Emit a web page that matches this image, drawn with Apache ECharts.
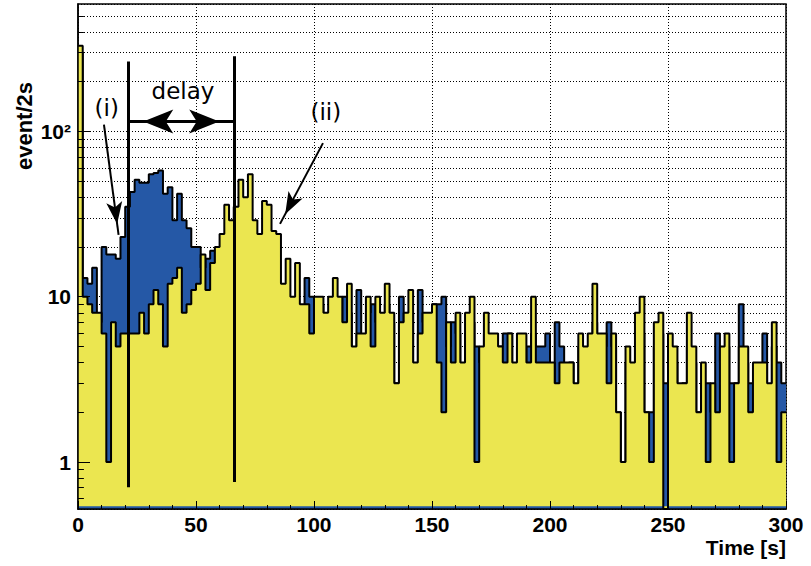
<!DOCTYPE html>
<html>
<head>
<meta charset="utf-8">
<script src="https://cdn.jsdelivr.net/npm/echarts@6/dist/echarts.min.js"></script>
<style>
  html, body { margin: 0; padding: 0; background: #fff; }
  #chart { width: 811px; height: 566px; }
</style>
</head>
<body>
<div id="chart"></div>
<script>
// Event counts per 2 s bin, 0-300 s (150 bins)
const binWidth = 2;

const yellowCounts = [
  330, 10, 9, 8, 8, 6, 1, 7, 5, 6,
  6, 6, 6, 8, 6, 9, 11, 9, 5, 12,
  13, 15, 8, 9, 11, 12, 18, 11, 16, 20,
  24, 36, 29, 35, 51, 40, 55, 29, 24, 38,
  36, 25, 24, 12, 17, 10, 16, 9, 9, 6,
  10, 10, 8, 10, 13, 10, 7, 12, 5, 6,
  6, 10, 5, 10, 8, 12, 8, 3, 7, 8,
  11, 4, 6, 8, 8, 9, 4, 2, 7, 4,
  8, 4, 8, 10, 1, 5, 8, 6, 6, 5,
  4, 6, 4, 6, 6, 4, 10, 4, 4, 4,
  4, 3, 4, 4, 4, 3, 6, 5, 6, 12,
  6, 6, 3, 6, 2, 1, 5, 4, 8, 10,
  2, 1, 7, 8, 0, 6, 5, 3, 3, 8,
  5, 2, 4, 1, 3, 2, 5, 6, 1, 3,
  5, 5, 2, 4, 4, 4, 3, 7, 1, 2
];

const blueCounts = [
  300, 13, 12, 15, 7, 20, 18, 18, 17, 23,
  35, 43, 51, 49, 49, 55, 56, 58, 42, 46,
  29, 42, 29, 26, 20, 20, 15, 17, 19, 16,
  15, 14, 13, 14, 13, 12, 12, 11, 12, 11,
  10, 11, 10, 9, 10, 9, 9, 8, 13, 10,
  8, 9, 7, 8, 9, 7, 10, 8, 4, 11,
  5, 8, 9, 7, 6, 9, 7, 3, 10, 6,
  8, 3, 11, 7, 6, 9, 9, 10, 5, 7,
  6, 3, 6, 7, 5, 4, 6, 5, 4, 5,
  6, 6, 3, 5, 4, 5, 6, 5, 5, 6,
  3, 7, 5, 3, 4, 2, 5, 4, 5, 7,
  4, 5, 7, 5, 2, 1, 4, 3, 5, 6,
  2, 2, 5, 6, 3, 4, 4, 2, 3, 5,
  4, 2, 3, 3, 2, 6, 4, 5, 3, 3,
  9, 4, 3, 3, 3, 6, 2, 5, 4, 3
];

// Axis settings and tick labels
const xMin = 0, xMax = 300, xInterval = 50;
const yMin = 0.52, yMax = 590;
const yTickValues = [1, 10, 100];
const yTickLabels = ['1', '10', '10\u00B2'];
const yMinorValues = [0.6, 0.7, 0.8, 0.9, 2, 3, 4, 5, 6, 7, 8, 9,
                      20, 30, 40, 50, 60, 70, 80, 90, 200, 300, 400, 500];

// Annotations: time [s], counts
const delayStart = 21.3, delayEnd = 66.2;
const delayLeftSpan = [265, 0.705];
const delayRightSpan = [285, 0.757];
const delayArrowLevel = 115;
const arrowI = [[11.0, 110], [17.2, 23.7]];
const arrowII = [[103.8, 85], [85.6, 27.6]];
const textLabels = [
  { name: 'delay', at: [44.5, 175] },
  { name: '(i)', at: [12.2, 139] },
  { name: '(ii)', at: [105, 131] }
];

const YELLOW = '#ebe650';
const BLUE = '#2558a6';
const LABEL_FONT = "'Liberation Sans', Arial, Helvetica, sans-serif";

// Step outline points: each bin value starts at its left edge, closing at the last edge.
function stepData(counts) {
  const pts = counts.map((c, i) => [i * binWidth, c > 0 ? c : yMin]);
  pts.push([counts.length * binWidth, pts[pts.length - 1][1]]);
  return pts;
}

const minorGridLines = yMinorValues.map(v => ({ yAxis: v }));

// short tick marks along the left frame
const leftTicks = yMinorValues.map(v => [
  { coord: [xMin, v], symbol: 'none' },
  { coord: [xMin + 2.5, v], symbol: 'none' }
]);

const arrowEnd = size => ({ symbol: 'arrow', symbolSize: size, symbolOffset: [0, '50%'] });

const annotationLines = [
  [{ coord: [delayStart, delayLeftSpan[0]], symbol: 'none' },
   { coord: [delayStart, delayLeftSpan[1]], symbol: 'none', lineStyle: { width: 3 } }],
  [{ coord: [delayEnd, delayRightSpan[0]], symbol: 'none' },
   { coord: [delayEnd, delayRightSpan[1]], symbol: 'none', lineStyle: { width: 3 } }],
  [Object.assign({ coord: [delayStart, delayArrowLevel] }, arrowEnd([18, 30])),
   Object.assign({ coord: [delayEnd, delayArrowLevel], lineStyle: { width: 3 } }, arrowEnd([18, 30]))],
  [{ coord: arrowI[0], symbol: 'none' },
   Object.assign({ coord: arrowI[1], lineStyle: { width: 2 } }, arrowEnd([12, 22]))],
  [{ coord: arrowII[0], symbol: 'none' },
   Object.assign({ coord: arrowII[1], lineStyle: { width: 2 } }, arrowEnd([12, 22]))]
];

const chart = echarts.init(document.getElementById('chart'), null, { renderer: 'svg' });

chart.setOption({
  animation: false,
  textStyle: { fontFamily: LABEL_FONT },
  grid: {
    left: 78, right: 25, top: 4, bottom: 57,
    show: true, borderColor: '#000', borderWidth: 1.5, backgroundColor: '#fff'
  },
  xAxis: [
    {
      type: 'value', min: xMin, max: xMax, interval: xInterval, z: 0,
      axisLine: { show: false }, axisTick: { show: false }, axisLabel: { show: false },
      splitLine: { show: true, lineStyle: { color: '#000', type: [1, 2], width: 1 } }
    },
    {
      type: 'value', min: xMin, max: xMax, interval: xInterval, z: 6, position: 'bottom',
      axisLine: { show: true, onZero: false, lineStyle: { color: '#000', width: 1.5 } },
      axisTick: { show: true, inside: true, length: 8, lineStyle: { color: '#000', width: 1 } },
      minorTick: { show: true, splitNumber: 5, length: 4, lineStyle: { color: '#000', width: 1 } },
      splitLine: { show: false },
      axisLabel: { show: true, margin: 5, color: '#000', fontSize: 21, fontWeight: 'bold', fontFamily: LABEL_FONT },
      name: 'Time [s]', nameLocation: 'end', nameGap: 0,
      nameTextStyle: { color: '#000', fontSize: 21, fontWeight: 'bold', fontFamily: LABEL_FONT,
                       align: 'right', verticalAlign: 'top', padding: [28, 0, 0, 0] }
    }
  ],
  yAxis: [
    {
      type: 'log', logBase: 10, min: yMin, max: yMax, z: 0,
      axisLine: { show: false }, axisTick: { show: false }, axisLabel: { show: false },
      splitLine: { show: true, lineStyle: { color: '#000', type: [1, 2], width: 1 } }
    },
    {
      type: 'log', logBase: 10, min: yMin, max: yMax, z: 6, position: 'left',
      axisLine: { show: true, onZero: false, lineStyle: { color: '#000', width: 1.5 } },
      axisTick: { show: true, inside: true, length: 12, lineStyle: { color: '#000', width: 1 } },
      splitLine: { show: false },
      axisLabel: {
        show: true, margin: 7, color: '#000', fontSize: 21, fontWeight: 'bold', fontFamily: LABEL_FONT,
        showMinLabel: false, showMaxLabel: false,
        formatter: v => {
          const k = yTickValues.findIndex(t => Math.abs(t - v) / t < 1e-6);
          return k >= 0 ? yTickLabels[k] : '';
        }
      }
    }
  ],
  graphic: [{
    type: 'text', left: 13, top: 82, rotation: Math.PI / 2,
    style: { text: 'event/2s', fill: '#000', font: "bold 22px 'Liberation Sans', Arial, sans-serif" }
  }],
  series: [
    {
      type: 'line', name: 'blue', data: stepData(blueCounts), step: 'end',
      symbol: 'none', showSymbol: false, clip: true, silent: true, z: 2,
      lineStyle: { color: '#000', width: 2 },
      areaStyle: { color: BLUE, opacity: 1, origin: 'start' },
      markLine: {
        z: 1, silent: true, symbol: ['none', 'none'], label: { show: false },
        lineStyle: { color: '#000', type: [1, 2], width: 1 },
        emphasis: { disabled: true },
        data: minorGridLines
      }
    },
    {
      type: 'line', name: 'yellow', data: stepData(yellowCounts), step: 'end',
      symbol: 'none', showSymbol: false, clip: true, silent: true, z: 3,
      lineStyle: { color: '#000', width: 2 },
      areaStyle: { color: YELLOW, opacity: 1, origin: 0.54 },
      markLine: {
        silent: true, symbol: ['none', 'none'], label: { show: false },
        lineStyle: { color: '#000', type: 'solid', width: 1 },
        emphasis: { disabled: true },
        data: leftTicks.concat(annotationLines)
      },
      markPoint: {
        silent: true, symbol: 'circle', symbolSize: 0,
        itemStyle: { color: 'transparent' },
        label: { show: true, position: 'inside', formatter: '{b}', color: '#000',
                 fontSize: 23, fontFamily: "'DejaVu Sans', sans-serif" },
        data: textLabels.map(t => ({ name: t.name, coord: t.at }))
      }
    }
  ]
});
</script>
</body>
</html>
